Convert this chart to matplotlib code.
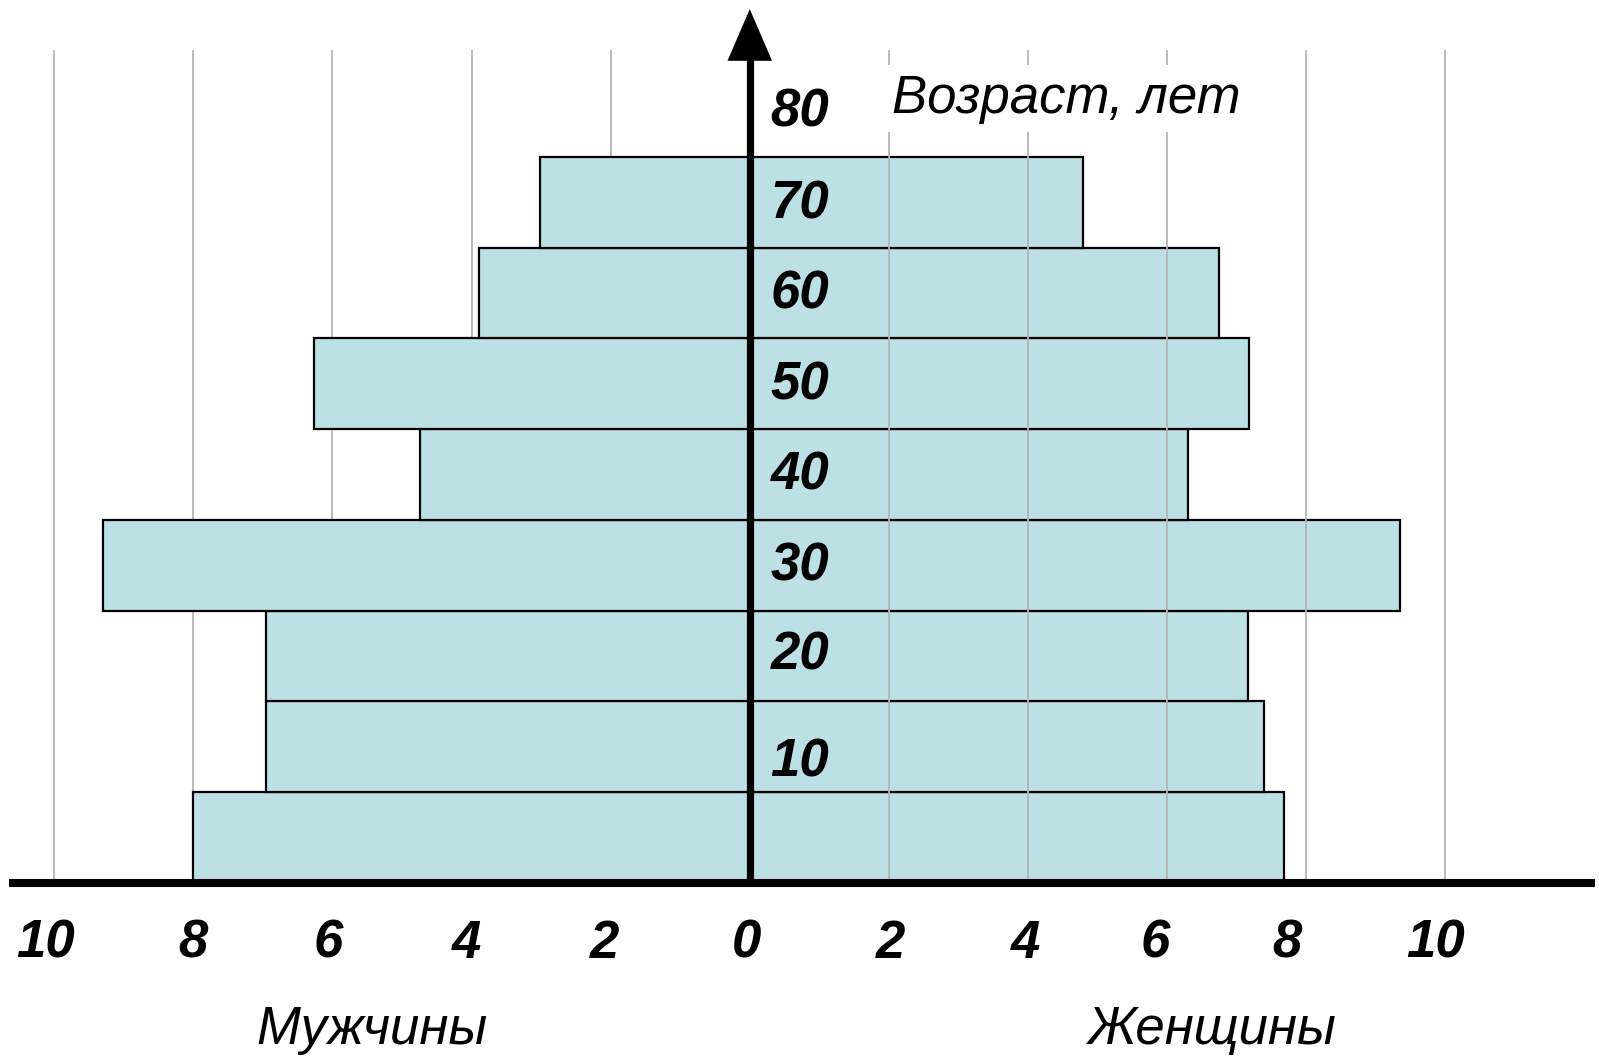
import matplotlib
matplotlib.use("Agg")
import matplotlib.pyplot as plt
from matplotlib import font_manager as fm

# ---- data ----
age_lower = [0, 10, 20, 30, 40, 50, 60, 70]
men = [8.0, 6.95, 6.95, 9.3, 4.74, 6.26, 3.9, 3.02]
women = [7.68, 7.4, 7.17, 9.35, 6.3, 7.18, 6.74, 4.79]
x_ticks = [-10, -8, -6, -4, -2, 0, 2, 4, 6, 8, 10]
x_tick_labels = ["10", "8", "6", "4", "2", "0", "2", "4", "6", "8", "10"]
age_labels = ["10", "20", "30", "40", "50", "60", "70", "80"]
age_label_pos = [13.3, 25.0, 34.9, 44.9, 54.8, 64.8, 74.8, 84.9]

# small horizontal nudges of the tick label text as in the reference
label_nudge = [-0.12, 0.0, -0.06, -0.07, -0.09, -0.04, 0.03, -0.03, -0.17, -0.27, -0.14]

names = {f.name for f in fm.fontManager.ttflist}
narrow = "Liberation Sans Narrow" if "Liberation Sans Narrow" in names else "Liberation Sans"
fam_narrow = [narrow, "DejaVu Sans"]
fam = ["Liberation Sans", "DejaVu Sans"]

fig = plt.figure(figsize=(15.99, 10.57), dpi=100)
ax = fig.add_axes([0, 0, 1, 1])
ax.set_xlim(-10.78, 12.21)
ax.set_ylim(-19.2, 97.3)
ax.axis("off")

bar_color = "#bce0e3"
# left gridlines (behind bars)
for v in [-10, -8, -6, -4, -2]:
    ax.plot([v, v], [0, 91.7], color="#b4b4b4", lw=1.3, zorder=1)
# right gridlines (over bars)
for v in [2, 4, 6, 8, 10]:
    ax.plot([v, v], [0, 91.7], color="#b4b4b4", lw=1.3, zorder=3)

ax.barh(age_lower, [-m for m in men], height=10, align="edge",
        color=bar_color, edgecolor="black", lw=1.6, zorder=2)
ax.barh(age_lower, women, height=10, align="edge",
        color=bar_color, edgecolor="black", lw=1.6, zorder=2)

# axes
ax.plot([-10.65, 12.15], [0, 0], color="black", lw=5.8, zorder=5, solid_capstyle="butt")
ax.plot([0, 0], [-0.3, 91.0], color="black", lw=5.2, zorder=5, solid_capstyle="butt")
ax.fill([-0.32, 0.32, 0], [90.6, 90.6, 96.3], color="black", zorder=5, lw=0)

for v, t, d in zip(x_ticks, x_tick_labels, label_nudge):
    ax.text(v + d, -6.7, t, ha="center", va="center", fontsize=38,
            fontweight="bold", fontstyle="italic", family=fam_narrow)

for y, t in zip(age_label_pos, age_labels):
    ax.text(0.3, y, t, ha="left", va="center", fontsize=38,
            fontweight="bold", fontstyle="italic", family=fam_narrow, zorder=6)

ax.text(4.55, 86.4, "Возраст, лет", ha="center", va="center", fontsize=38,
        fontstyle="italic", family=fam, zorder=6,
        bbox=dict(facecolor="white", edgecolor="none", pad=6))
ax.text(-5.43, -16.2, "Мужчины", ha="center", va="center", fontsize=38,
        fontstyle="italic", family=fam)
ax.text(6.64, -16.2, "Женщины", ha="center", va="center", fontsize=38,
        fontstyle="italic", family=fam)

fig.savefig("out.png", dpi=100)
